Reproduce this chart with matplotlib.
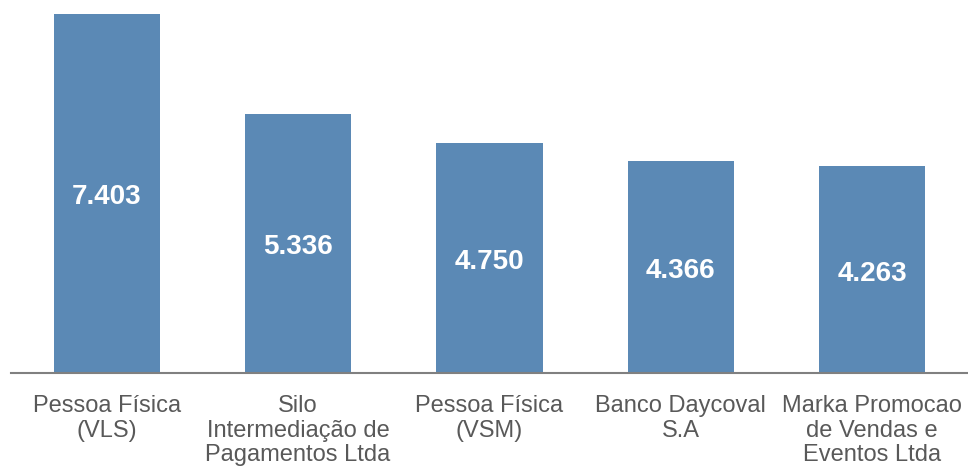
import matplotlib.pyplot as plt

categories = ['Pessoa Física\n(VLS)', 'Silo\nIntermediação de\nPagamentos Ltda',
              'Pessoa Física\n(VSM)', 'Banco Daycoval\nS.A',
              'Marka Promocao\nde Vendas e\nEventos Ltda']
values = [7.403, 5.336, 4.750, 4.366, 4.263]
labels = ['7.403', '5.336', '4.750', '4.366', '4.263']

plt.rcParams['font.family'] = ['Liberation Sans', 'DejaVu Sans']

fig = plt.figure(figsize=(9.68, 4.67), dpi=100)
ax = fig.add_axes([11/968, 94/467, 957/968, 373/467])

x = range(len(values))
bars = ax.bar(x, values, width=0.555, color='#5B89B5')
for b, lab in zip(bars, labels):
    ax.text(b.get_x() + b.get_width()/2, b.get_height()/2 - 0.08, lab,
            ha='center', va='center', color='white', fontsize=20, fontweight='bold')

ax.set_xlim(-0.5, len(values) - 0.5)
ax.set_ylim(0, values[0] * 373 / 359)
ax.set_xticks(list(x))
ax.set_xticklabels(categories, fontsize=17, color='#595959', linespacing=1.15)
ax.tick_params(axis='x', length=0, pad=16)
ax.set_yticks([])
for s in ['top', 'right', 'left']:
    ax.spines[s].set_visible(False)
ax.spines['bottom'].set_color('#808080')
ax.spines['bottom'].set_linewidth(1.5)

fig.savefig('out.png', dpi=100)
